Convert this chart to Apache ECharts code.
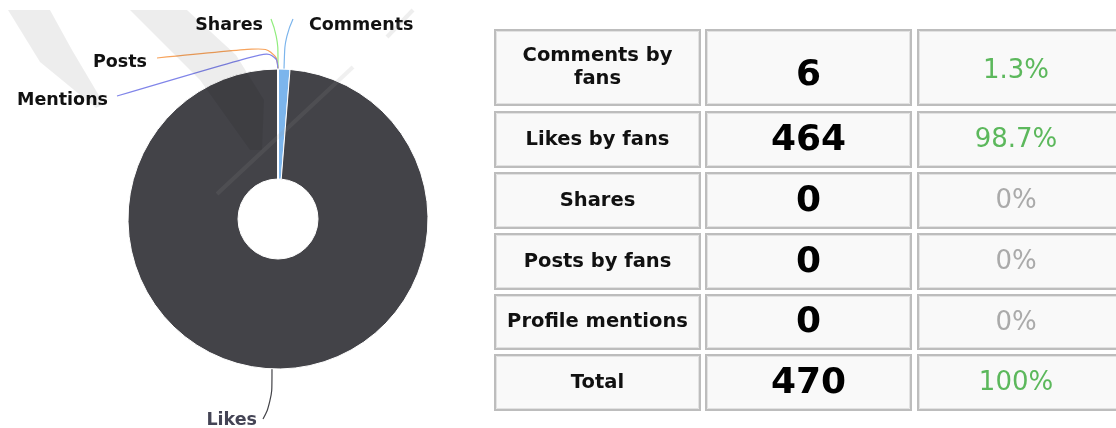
<!DOCTYPE html>
<html>
<head>
<meta charset="utf-8">
<script src="https://cdn.jsdelivr.net/npm/echarts@6/dist/echarts.min.js"></script>
<style>
html,body{margin:0;padding:0;background:#fff;}
#c{width:1116px;height:428px;}
</style>
</head>
<body>
<div id="c"></div>
<script>
// ---- data ----
const pieNames = ['Comments', 'Likes', 'Shares', 'Posts', 'Mentions'];
const pieValues = [6, 464, 0, 0, 0];
const pieColors = ['#7cb5ec', '#434348', '#90ed7d', '#f7a35c', '#8085e9'];

const tableLabels = ['Comments by\nfans', 'Likes by fans', 'Shares', 'Posts by fans', 'Profile mentions', 'Total'];
const tableValues = [6, 464, 0, 0, 0, 470];
const tablePercents = ['1.3%', '98.7%', '0%', '0%', '0%', '100%'];

// ---- layout ----
const FONT = 'DejaVu Sans';
const center = [278, 219];
const labelPos = {
  Comments: { x: 309, y: 25, align: 'left', pts: [[285, 36], [293, 19]] },
  Shares:   { x: 263, y: 25, align: 'right', pts: [[278, 36], [271, 19]] },
  Posts:    { x: 147, y: 62, align: 'right', pts: [[276, 46], [157, 58]] },
  Mentions: { x: 108, y: 100, align: 'right', pts: [[276, 49], [117, 96]] },
  Likes:    { x: 257, y: 420, align: 'right', pts: [[272, 402], [263, 419]] }
};
const colX = [[494, 701], [705, 912], [917, 1126]];
const rowY = [[29, 106], [111, 168], [172, 229], [233, 290], [294, 350], [354, 411]];
const valueShift = [8, 1, 1, 1, 1, 1];
const pctShift = [4, 1, 1, 1, 1, 1];

const chart = echarts.init(document.getElementById('c'), null, { renderer: 'canvas' });

const graphics = [];
// faint watermark
graphics.push({
  type: 'polygon', z: 100, silent: true,
  shape: { points: [[8, 10], [50, 10], [72, 50], [104, 104], [96, 108], [40, 62]] },
  style: { fill: 'rgba(0,0,0,0.07)' }
});
graphics.push({
  type: 'polygon', z: 100, silent: true,
  shape: { points: [[130, 10], [187, 10], [236, 55], [264, 100], [262, 150], [250, 150], [200, 80]] },
  style: { fill: 'rgba(0,0,0,0.07)' }
});
graphics.push({
  type: 'line', z: 100, silent: true,
  shape: { x1: 413, y1: 10, x2: 387, y2: 37 },
  style: { stroke: 'rgba(150,150,150,0.16)', lineWidth: 4 }
});
graphics.push({
  type: 'line', z: 100, silent: true,
  shape: { x1: 353, y1: 67, x2: 217, y2: 194 },
  style: { stroke: 'rgba(150,150,150,0.14)', lineWidth: 4 }
});

// table
for (let r = 0; r < tableLabels.length; r++) {
  const [y0, y1] = rowY[r];
  const cy = (y0 + y1) / 2;
  for (let c = 0; c < 3; c++) {
    const [x0, x1] = colX[c];
    graphics.push({
      type: 'rect', silent: true,
      shape: { x: x0 + 1, y: y0 + 1, width: x1 - x0 - 2, height: y1 - y0 - 2 },
      style: { fill: '#f9f9f9', stroke: '#bdbdbd', lineWidth: 2 }
    });
    graphics.push({
      type: 'rect', silent: true,
      shape: { x: x0 + 2.5, y: y0 + 2.5, width: x1 - x0 - 5, height: y1 - y0 - 5 },
      style: { fill: 'none', stroke: '#e2e2e2', lineWidth: 1 }
    });
  }
  const zero = tableValues[r] === 0;
  graphics.push({
    type: 'text', silent: true, x: (colX[0][0] + colX[0][1]) / 2, y: cy,
    style: { text: tableLabels[r], fontFamily: FONT, fontWeight: 'bold', fontSize: 19.5,
      lineHeight: 23, fill: '#111', align: 'center', verticalAlign: 'middle' }
  });
  graphics.push({
    type: 'text', silent: true, x: (colX[1][0] + colX[1][1]) / 2, y: cy + valueShift[r],
    style: { text: String(tableValues[r]), fontFamily: FONT, fontWeight: 'bold', fontSize: 36,
      fill: '#000', align: 'center', verticalAlign: 'middle' }
  });
  graphics.push({
    type: 'text', silent: true, x: 1016, y: cy + pctShift[r],
    style: { text: tablePercents[r], fontFamily: FONT, fontSize: 26,
      fill: zero ? '#aaaaaa' : '#5cb85c', align: 'center', verticalAlign: 'middle' }
  });
}

chart.setOption({
  animation: false,
  graphic: graphics,
  series: [{
    type: 'pie',
    center: center,
    radius: [40, 150],
    startAngle: 90,
    clockwise: true,
    avoidLabelOverlap: false,
    minShowLabelAngle: 0,
    itemStyle: { borderColor: '#ffffff', borderWidth: 1 },
    label: {
      show: true, position: 'outside', formatter: '{b}',
      fontFamily: FONT, fontWeight: 'bold', fontSize: 17.5, color: '#111'
    },
    labelLine: { show: true, length: 10, length2: 10, smooth: 0.5, lineStyle: { width: 1.2 } },
    emphasis: { disabled: true },
    labelLayout: function (params) {
      const name = pieNames[params.dataIndex];
      const lp = labelPos[name];
      const start = params.labelLinePoints ? params.labelLinePoints[0] : [center[0], center[1] - 150];
      return { x: lp.x, y: lp.y, align: lp.align, verticalAlign: 'middle',
        labelLinePoints: [start].concat(lp.pts) };
    },
    data: pieNames.map((n, i) => ({
      name: n, value: pieValues[i], itemStyle: { color: pieColors[i] },
      label: n === 'Likes' ? { color: '#445', textBorderColor: '#fff', textBorderWidth: 2 } : undefined
    }))
  }]
});
</script>
</body>
</html>
